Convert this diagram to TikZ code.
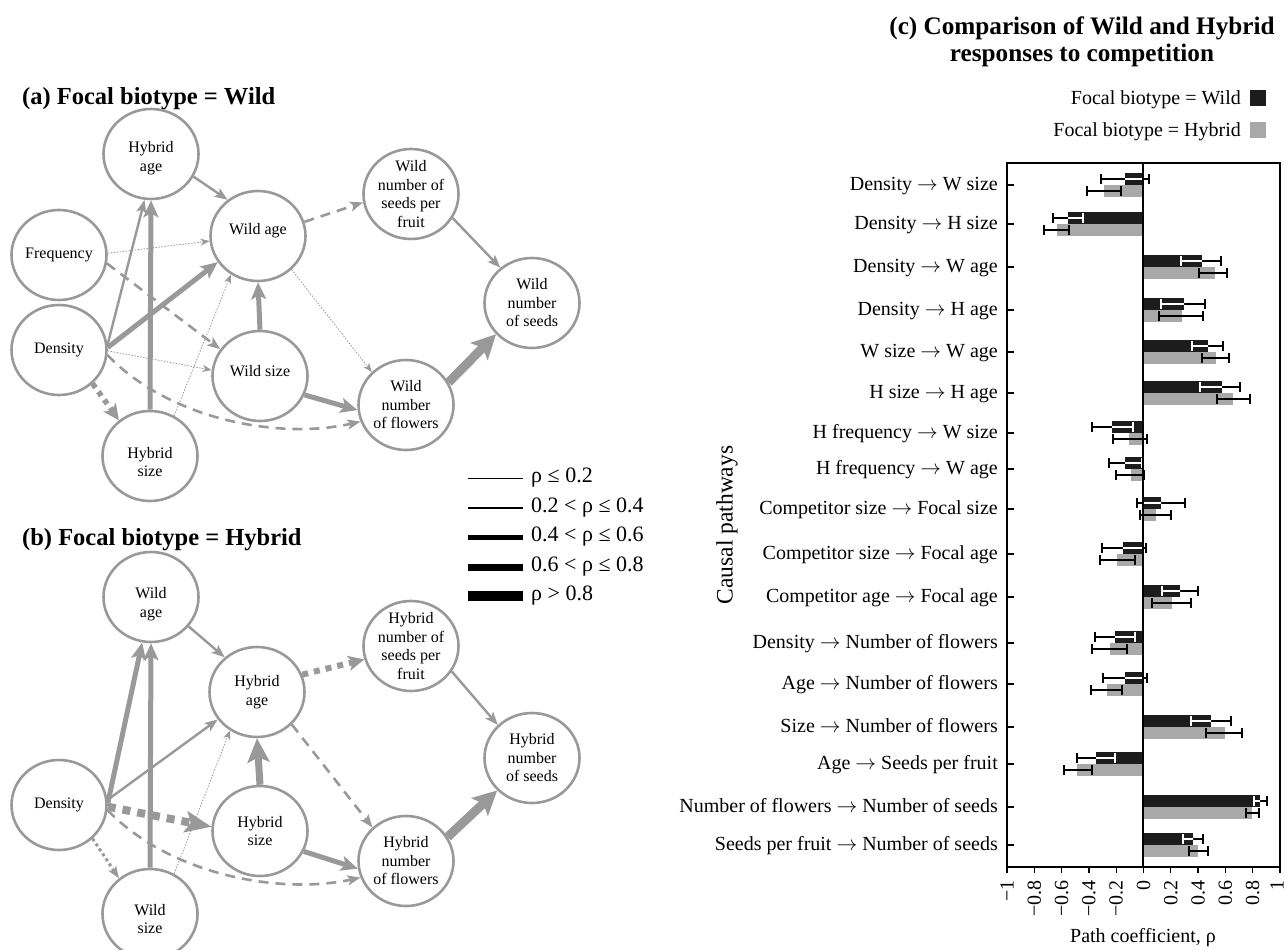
\documentclass[tikz,border=0pt]{standalone}
\usepackage{fontspec}
\setmainfont{Liberation Serif}
\usetikzlibrary{arrows.meta,shapes.geometric}
\definecolor{ln}{HTML}{999999}
\definecolor{barg}{HTML}{A8A8A8}
\definecolor{barb}{HTML}{1C1C1C}
\tikzset{
 bub/.style={ellipse, draw=ln, line width=2.6pt, minimum width=95pt, minimum height=90pt, inner sep=0pt},
 bubt/.style={align=center, font=\fontsize{16}{18.5}\selectfont, inner sep=0pt},
 w1/.style={ln, line width=0.8pt, dash pattern=on 1.5pt off 1.5pt, -{Stealth[length=9pt,width=7pt,inset=2.5pt]}},
 w2/.style={ln, line width=2.4pt, -{Stealth[length=13pt,width=10pt,inset=3pt]}},
 w3/.style={ln, line width=5pt, -{Stealth[length=17pt,width=15pt,inset=4pt]}},
 w3b/.style={ln, line width=7pt, -{Stealth[length=24pt,width=22pt,inset=5pt]}},
 w4/.style={ln, line width=9pt, -{Stealth[length=24pt,width=24pt,inset=5pt]}},
 dsh/.style={ln, line width=2.6pt, dash pattern=on 10pt off 7pt, -{Stealth[length=13pt,width=10pt,inset=3pt]}},
 dota/.style={ln, line width=5.5pt, dash pattern=on 5pt off 5pt, -{Stealth[length=16pt,width=15pt,inset=4pt]}},
 dotb/.style={ln, line width=8pt, dash pattern=on 8pt off 7pt, -{Stealth[length=26pt,width=21pt,inset=5pt]}},
 dotc/.style={ln, line width=3pt, dash pattern=on 3pt off 3pt, -{Stealth[length=12pt,width=9pt,inset=3pt]}},
 dotd/.style={ln, line width=6pt, dash pattern=on 6pt off 6pt, -{Stealth[length=16pt,width=15pt,inset=4pt]}},
 ttl/.style={font=\fontsize{24.5}{28}\selectfont\bfseries, inner sep=0pt},
 ttlc/.style={font=\fontsize{25.2}{28}\selectfont\bfseries, inner sep=0pt},
 lgt/.style={font=\fontsize{22}{26}\selectfont, anchor=west, inner sep=0pt},
 rowlab/.style={font=\fontsize{20}{24}\selectfont, anchor=mid east, inner sep=0pt},
 ticklab/.style={font=\fontsize{20}{24}\selectfont, rotate=90, anchor=east, inner sep=0pt},
 axl/.style={font=\fontsize{20}{24}\selectfont, inner sep=0pt},
 errl/.style={line width=1.3pt},
}
\newcommand\ar{ $\rightarrow$ }
\newcommand\bub[4][0]{\node[bub] (#2) at (#3) {}; \node[bubt, yshift=-#1pt] (#2t) at (#2.center) {#4};}
\newcommand\brow[8]{%
  \fill[barb] (1143,#1-12) rectangle (#2,#1);
  \fill[barg] (1143,#1) rectangle (#5,#1+12);
  \draw[errl] (#3,#1-6) -- (#4,#1-6) (#3,#1-11) -- (#3,#1-1) (#4,#1-11) -- (#4,#1-1);
  \begin{scope}
    \clip (1143,#1-12) rectangle (#2,#1);
    \draw[errl,white] (#3,#1-6) -- (#4,#1-6) (#3,#1-11) -- (#3,#1-1) (#4,#1-11) -- (#4,#1-1);
  \end{scope}
  \draw[errl] (#6,#1+6) -- (#7,#1+6) (#6,#1+1) -- (#6,#1+11) (#7,#1+1) -- (#7,#1+11);
  \draw[line width=1.3pt] (1007,#1) -- (1014,#1);
  \node[rowlab] (row#1) at (998,#1+3) {#8};
}
\begin{document}
\begin{tikzpicture}[x=1pt,y=-1pt]
\useasboundingbox (0,0) rectangle (1286,950);

% ---------- panel (a)
\node[ttl, anchor=base west] (ta) at (22,105) {(a) Focal biotype = Wild};
\bub[4]{ha}{151,154}{Hybrid\\age}
\bub[-5]{wa}{258,236}{Wild age}
\bub{fq}{59,255}{Frequency}
\bub{da}{59,350}{Density}
\bub[6]{hs}{150,456}{Hybrid\\size}
\bub[-5]{ws}{260,376}{Wild size}
\bub{wf}{406,405}{Wild\\number\\of flowers}
\bub{wp}{411,194}{Wild\\number of\\seeds per\\fruit}
\bub{wn}{532,303}{Wild\\number\\of seeds}

\draw[w2] (ha.-28) -- (wa.130);
\draw[w1] (fq.2) -- (wa.186);
\draw[dsh] (fq.-10) -- (ws.146);
\draw[w2] (da.6) -- (ha.262);
\draw[w3] (hs.90) -- (ha.-90);
\draw[w3] (da.3) -- (wa.213);
\draw[w1] (da.-1) -- (ws.173);
\draw[dsh] (da.-6) .. controls (170,420) and (280,440) .. (wf.200);
\draw[dota] (da.-45) -- (hs.131);
\draw[w1] (hs.59) -- (wa.235);
\draw[w3] (ws.90) -- (wa.-90);
\draw[dsh] (wa.17) -- (wp.190);
\draw[w1] (wa.-45) -- (wf.136);
\draw[w3] (ws.-23) -- (wf.186);
\draw[w2] (wp.-30) -- (wn.132);
\draw[w4] (wf.28) -- (wn.221);

% ---------- panel (b)
\node[ttl, anchor=base west] (tb) at (22,545) {(b) Focal biotype = Hybrid};
\bub[7]{wab}{151,597}{Wild\\age}
\bub{hab}{257,692}{Hybrid\\age}
\bub{db}{59,805}{Density}
\bub{hsb}{260,831}{Hybrid\\size}
\bub[5]{wsb}{150,914}{Wild\\size}
\bub{hf}{406,861}{Hybrid\\number\\of flowers}
\bub{hp}{411,646}{Hybrid\\number of\\seeds per\\fruit}
\bub{hn}{532,758}{Hybrid\\number\\of seeds}

\draw[w2] (wab.-38) -- (hab.133);
\draw[w3] (db.2) -- (wab.259);
\draw[w3] (wsb.90) -- (wab.-90);
\draw[w2] (db.6) -- (hab.215);
\draw[w1] (wsb.59) -- (hab.235);
\draw[dotb] (db.-2) -- (hsb.175);
\draw[dsh] (db.-6) .. controls (170,875) and (280,895) .. (hf.200);
\draw[dotc] (db.-45) -- (wsb.131);
\draw[w3b] (hsb.90) -- (hab.-90);
\draw[dotd] (hab.21) -- (hp.196);
\draw[dsh] (hab.-43) -- (hf.135);
\draw[w3] (hsb.-25) -- (hf.189);
\draw[w2] (hp.-32) -- (hn.136);
\draw[w4] (hf.30) -- (hn.223);

% ---------- legend of line widths
\draw[line width=1pt] (468,478) -- (523,478);
\draw[line width=2pt] (468,508) -- (523,508);
\draw[line width=5pt] (468,537) -- (523,537);
\draw[line width=7pt] (468,567) -- (523,567);
\draw[line width=10pt] (468,596) -- (523,596);
\node[lgt] (lg1) at (531,478) {ρ ≤ 0.2};
\node[lgt] (lg2) at (531,508) {0.2 < ρ ≤ 0.4};
\node[lgt] (lg3) at (531,537) {0.4 < ρ ≤ 0.6};
\node[lgt] (lg4) at (531,567) {0.6 < ρ ≤ 0.8};
\node[lgt] (lg5) at (531,596) {ρ > 0.8};

% ---------- panel (c)
\node[ttlc, anchor=base] (tc1) at (1082,35) {(c) Comparison of Wild and Hybrid};
\node[ttlc, anchor=base] (tc2) at (1082,62) {responses to competition};
\node[axl, anchor=base east] (lw) at (1241,104) {Focal biotype = Wild};
\node[axl, anchor=base east] (lh) at (1241,136) {Focal biotype = Hybrid};
\fill[barb] (1250,90) rectangle (1266,106);
\fill[barg] (1250,122) rectangle (1266,138);

\brow{185}{1125}{1101}{1149}{1104}{1087}{1121}{Density\ar W size}
\brow{224}{1068}{1053}{1083}{1057}{1044}{1069}{Density\ar H size}
\brow{267}{1202}{1181}{1221}{1215}{1199}{1227}{Density\ar W age}
\brow{310}{1184}{1161}{1205}{1182}{1159}{1203}{Density\ar H age}
\brow{352}{1208}{1192}{1223}{1216}{1202}{1229}{W size\ar W age}
\brow{393}{1222}{1200}{1240}{1233}{1217}{1250}{H size\ar H age}
\brow{433}{1112}{1092}{1133}{1129}{1113}{1147}{H frequency\ar W size}
\brow{469}{1125}{1109}{1142}{1131}{1116}{1144}{H frequency\ar W age}
\brow{509}{1161}{1137}{1185}{1156}{1140}{1171}{Competitor size\ar Focal size}
\brow{554}{1123}{1102}{1146}{1117}{1100}{1135}{Competitor size\ar Focal age}
\brow{597}{1180}{1162}{1198}{1172}{1152}{1191}{Competitor age\ar Focal age}
\brow{643}{1115}{1095}{1135}{1110}{1092}{1127}{Density\ar Number of flowers\ }
\brow{684}{1125}{1103}{1147}{1107}{1091}{1122}{Age\ar Number of flowers}
\brow{727}{1211}{1191}{1231}{1225}{1206}{1242}{Size\ar Number of flowers}
\brow{764}{1096}{1077}{1115}{1077}{1064}{1092}{Age\ar Seeds per fruit}
\brow{807}{1260}{1254}{1267}{1252}{1246}{1259}{Number of flowers\ar Number of seeds}
\brow{845}{1193}{1183}{1203}{1198}{1189}{1208}{Seeds per fruit\ar Number of seeds}

\draw[line width=1.3pt] (1007,163) rectangle (1280,867);
\draw[line width=1.3pt] (1143,163) -- (1143,867);
\foreach \v/\t [count=\i] in {-1/−1,-0.8/−0.8,-0.6/−0.6,-0.4/−0.4,-0.2/−0.2,0/0,0.2/0.2,0.4/0.4,0.6/0.6,0.8/0.8}{
  \draw[line width=1.3pt] ({1143.5+136.5*(\v)},867) -- ({1143.5+136.5*(\v)},873);
  \node[ticklab] (tk\i) at ({1143.5+136.5*(\v)},880) {\t};
}
\draw[line width=1.3pt] (1280,867) -- (1280,873);
\node[ticklab] (tk11) at (1277,880) {1};
\node[axl] (xl) at (1143,938) {Path coefficient, ρ};
\node[font=\fontsize{23.5}{26}\selectfont, inner sep=0pt, rotate=90] (yl) at (727,525) {Causal pathways};
\end{tikzpicture}
\end{document}
